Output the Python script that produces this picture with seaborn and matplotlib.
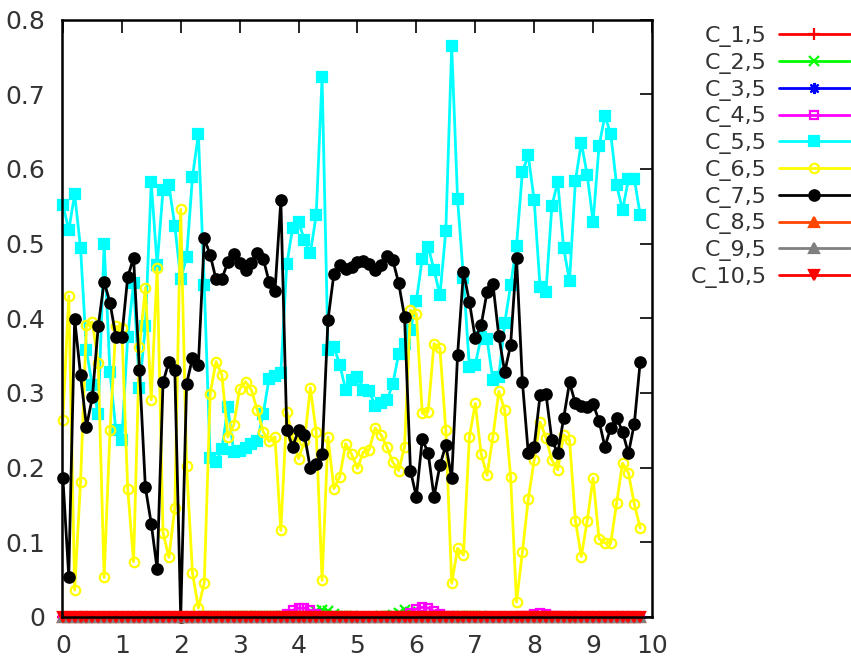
import numpy as np
import matplotlib
matplotlib.use("Agg")
import matplotlib.pyplot as plt
import seaborn as sns

# ---------------- data ----------------
X = np.round(np.arange(99) * 0.1, 1)

C7 = [0.186, 0.054, 0.399, 0.324, 0.255, 0.294, 0.389, 0.449, 0.421, 0.375,
      0.375, 0.455, 0.481, 0.331, 0.174, 0.125, 0.064, 0.314, 0.342, 0.331,
      0.000, 0.312, 0.347, 0.337, 0.507, 0.485, 0.452, 0.453, 0.475, 0.486,
      0.474, 0.465, 0.474, 0.487, 0.480, 0.449, 0.436, 0.558, 0.251, 0.228,
      0.250, 0.244, 0.199, 0.205, 0.218, 0.398, 0.459, 0.471, 0.466, 0.468,
      0.475, 0.477, 0.472, 0.464, 0.471, 0.484, 0.478, 0.447, 0.402, 0.196,
      0.161, 0.238, 0.220, 0.161, 0.203, 0.230, 0.186, 0.351, 0.462, 0.422,
      0.373, 0.391, 0.435, 0.446, 0.376, 0.328, 0.364, 0.481, 0.315, 0.219,
      0.228, 0.297, 0.299, 0.237, 0.219, 0.266, 0.314, 0.286, 0.282, 0.281,
      0.285, 0.263, 0.228, 0.253, 0.267, 0.248, 0.219, 0.259, 0.342]

C5 = [0.552, 0.518, 0.566, 0.494, 0.357, 0.310, 0.272, 0.499, 0.328, 0.250,
      0.237, 0.375, 0.447, 0.307, 0.389, 0.582, 0.471, 0.572, 0.578, 0.524,
      0.452, 0.482, 0.589, 0.647, 0.444, 0.213, 0.207, 0.225, 0.281, 0.221,
      0.222, 0.226, 0.231, 0.236, 0.272, 0.319, 0.323, 0.327, 0.472, 0.521,
      0.529, 0.505, 0.487, 0.538, 0.723, 0.357, 0.362, 0.338, 0.304, 0.317,
      0.322, 0.304, 0.302, 0.283, 0.287, 0.290, 0.312, 0.352, 0.366, 0.384,
      0.423, 0.480, 0.496, 0.465, 0.431, 0.517, 0.764, 0.559, 0.454, 0.335,
      0.338, 0.375, 0.372, 0.317, 0.322, 0.394, 0.444, 0.497, 0.596, 0.618,
      0.558, 0.442, 0.435, 0.550, 0.583, 0.494, 0.450, 0.584, 0.635, 0.592,
      0.529, 0.630, 0.671, 0.647, 0.578, 0.545, 0.586, 0.587, 0.538]

C6 = [0.264, 0.430, 0.036, 0.181, 0.391, 0.395, 0.340, 0.053, 0.250, 0.389,
      0.387, 0.172, 0.074, 0.362, 0.441, 0.291, 0.467, 0.113, 0.080, 0.146,
      0.546, 0.202, 0.059, 0.012, 0.046, 0.299, 0.342, 0.324, 0.241, 0.257,
      0.305, 0.315, 0.304, 0.277, 0.248, 0.235, 0.241, 0.116, 0.275, 0.240,
      0.212, 0.235, 0.307, 0.248, 0.049, 0.241, 0.172, 0.188, 0.232, 0.218,
      0.199, 0.221, 0.224, 0.253, 0.244, 0.228, 0.207, 0.196, 0.228, 0.411,
      0.406, 0.273, 0.275, 0.366, 0.360, 0.250, 0.045, 0.092, 0.083, 0.241,
      0.286, 0.218, 0.190, 0.241, 0.302, 0.277, 0.188, 0.020, 0.087, 0.158,
      0.210, 0.261, 0.240, 0.210, 0.197, 0.244, 0.237, 0.129, 0.081, 0.129,
      0.186, 0.105, 0.099, 0.099, 0.153, 0.206, 0.193, 0.151, 0.119]

C2 = [0.000, 0.000, 0.000, 0.000, 0.000, 0.000, 0.000, 0.000, 0.000, 0.000,
      0.000, 0.000, 0.000, 0.000, 0.000, 0.000, 0.000, 0.000, 0.000, 0.000,
      0.000, 0.000, 0.000, 0.002, 0.002, 0.002, 0.002, 0.002, 0.002, 0.001,
      0.001, 0.001, 0.001, 0.001, 0.001, 0.002, 0.002, 0.002, 0.002, 0.002,
      0.002, 0.003, 0.004, 0.008, 0.010, 0.008, 0.004, 0.002, 0.001, 0.001,
      0.000, 0.000, 0.000, 0.000, 0.001, 0.002, 0.003, 0.006, 0.009, 0.007,
      0.003, 0.001, 0.000, 0.000, 0.000, 0.000, 0.000, 0.001, 0.002, 0.002,
      0.002, 0.001, 0.000, 0.000, 0.000, 0.000, 0.000, 0.000, 0.000, 0.000,
      0.000, 0.000, 0.000, 0.000, 0.000, 0.000, 0.000, 0.000, 0.000, 0.000,
      0.000, 0.000, 0.000, 0.000, 0.000, 0.000, 0.000, 0.000, 0.000]

C4 = [0.000, 0.000, 0.000, 0.000, 0.000, 0.000, 0.000, 0.000, 0.000, 0.000,
      0.000, 0.000, 0.000, 0.000, 0.000, 0.000, 0.000, 0.000, 0.000, 0.000,
      0.000, 0.000, 0.000, 0.000, 0.000, 0.000, 0.000, 0.000, 0.000, 0.000,
      0.000, 0.000, 0.000, 0.000, 0.000, 0.000, 0.000, 0.001, 0.004, 0.009,
      0.012, 0.012, 0.009, 0.004, 0.001, 0.000, 0.000, 0.000, 0.000, 0.000,
      0.000, 0.000, 0.000, 0.000, 0.000, 0.000, 0.000, 0.000, 0.002, 0.006,
      0.011, 0.013, 0.012, 0.008, 0.004, 0.002, 0.001, 0.000, 0.000, 0.000,
      0.000, 0.000, 0.000, 0.000, 0.000, 0.000, 0.000, 0.000, 0.001, 0.002,
      0.004, 0.005, 0.004, 0.002, 0.001, 0.000, 0.000, 0.000, 0.000, 0.000,
      0.000, 0.000, 0.000, 0.000, 0.000, 0.000, 0.000, 0.000, 0.000]

ZERO = [0.0] * 99
C1 = ZERO
C3 = ZERO
C8 = ZERO
C9 = ZERO
C10 = ZERO

LABELS = ["C_1,5", "C_2,5", "C_3,5", "C_4,5", "C_5,5",
          "C_6,5", "C_7,5", "C_8,5", "C_9,5", "C_10,5"]
SERIES = [C1, C2, C3, C4, C5, C6, C7, C8, C9, C10]

# ---------------- style ----------------
COLORS = ["#ff0000", "#00ff00", "#0000ff", "#ff00ff", "#00ffff",
          "#ffff00", "#000000", "#ff4500", "#808080", "#ff0000"]
MARKERS = ["+", "x", (8, 2, 0), "s", "s", "o", "o", "^", "^", "v"]
FILLED = [True, True, True, False, True, False, True, True, True, True]
MSIZE = [9, 7, 8, 6, 7, 6.8, 7.5, 7, 7, 7]

sns.set_theme(style="white")
plt.rcParams["font.family"] = ["DejaVu Sans"]
plt.rcParams["text.color"] = "#333333"

fig = plt.figure(figsize=(8.51, 6.58), dpi=100)
ax = fig.add_axes([61.7 / 851, 1 - 617 / 658, (652 - 61.7) / 851, (617 - 19.5) / 658])

for lab, vals, col, mk, fil, ms in zip(LABELS, SERIES, COLORS, MARKERS, FILLED, MSIZE):
    sns.lineplot(x=X, y=vals, ax=ax, color=col, linewidth=2.0,
                 marker=mk, markersize=ms,
                 markerfacecolor=(col if fil else "none"),
                 markeredgecolor=col, markeredgewidth=1.6,
                 label=lab, estimator=None, sort=False, clip_on=False)

ax.set_xlim(-0.02, 9.95)
ax.set_ylim(0, 0.8)
ax.set_xticks(range(0, 11))
ax.set_yticks([0, 0.1, 0.2, 0.3, 0.4, 0.5, 0.6, 0.7, 0.8])
ax.set_yticklabels(["0", "0.1", "0.2", "0.3", "0.4", "0.5", "0.6", "0.7", "0.8"])
ax.set_xlabel("")
ax.set_ylabel("")
for sp in ax.spines.values():
    sp.set_color("black")
    sp.set_linewidth(1.8)
ax.tick_params(axis="both", direction="in", length=9, width=1.2, color="black",
               top=True, right=True, labelsize=18, labelcolor="#333333")
ax.tick_params(axis="x", pad=12.5)
ax.tick_params(axis="y", pad=12)

handles, labels = ax.get_legend_handles_labels()
leg = ax.legend(handles, labels, loc="upper right",
                bbox_to_anchor=(850 / 851, 1 - 26 / 658),
                bbox_transform=fig.transFigure, frameon=False,
                markerfirst=False, fontsize=16, handlelength=3.2,
                handletextpad=0.55, labelspacing=0.26, borderpad=0,
                borderaxespad=0, numpoints=1)

fig.savefig("out.png", dpi=100)
